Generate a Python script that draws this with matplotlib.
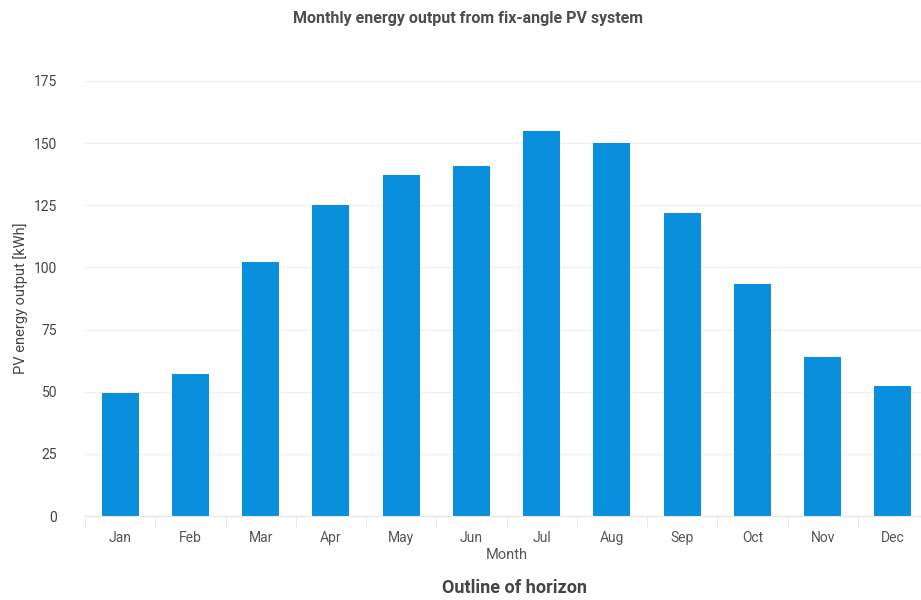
import matplotlib.pyplot as plt
import numpy as np

# Data
months = ["Jan", "Feb", "Mar", "Apr", "May", "Jun", "Jul", "Aug", "Sep", "Oct", "Nov", "Dec"]
energy_kwh = [49.5, 57, 102, 125, 137, 141, 155, 150, 122, 93.5, 64, 52.5]
y_ticks = [0, 25, 50, 75, 100, 125, 150, 175]

plt.rcParams['font.family'] = ['Roboto', 'DejaVu Sans']

fig = plt.figure(figsize=(9.21, 6), dpi=100)
W, H = 921, 600
# axes box in pixels (right side runs past the figure edge, as in the source)
left, right, top, bottom = 85, 928, 81, 516
ax = fig.add_axes([left / W, 1 - bottom / H, (right - left) / W, (bottom - top) / H])

x = np.arange(len(months))
ax.bar(x, energy_kwh, width=0.53, color="#0a8fdc", zorder=2)

ax.set_xlim(-0.5, len(months) - 0.5)
ax.set_ylim(0, 175)
ax.set_yticks(y_ticks)
ax.set_yticklabels([str(v) for v in y_ticks], color="#444444", fontsize=10)
ax.set_xticks(x)
ax.set_xticklabels(months, color="#555555", fontsize=10)
ax.tick_params(axis="y", length=0, pad=20)
ax.tick_params(axis="x", length=0, pad=11)

# faint category separators at the bottom
ax.set_xticks(np.arange(-0.5, len(months), 1), minor=True)
ax.tick_params(axis="x", which="minor", length=8, color="#e6e6e6", direction="out")

ax.grid(axis="y", color="#f0f0f0", linewidth=1, zorder=0)
for s in ["top", "right", "left"]:
    ax.spines[s].set_visible(False)
ax.spines["bottom"].set_color("#e6e6e6")

ax.set_ylabel("PV energy output [kWh]", color="#444444", fontsize=10.5, labelpad=4)
ax.set_xlabel("Month", color="#555555", fontsize=10.5, labelpad=2)

fig.text(468 / W, 1 - 18 / H, "Monthly energy output from fix-angle PV system",
         ha="center", va="center", fontsize=11.5, fontweight="bold", color="#4d4d4d")
fig.text(514 / W, 1 - 588 / H, "Outline of horizon",
         ha="center", va="center", fontsize=13, fontweight="bold", color="#444444")

fig.savefig("out.png", dpi=100)
